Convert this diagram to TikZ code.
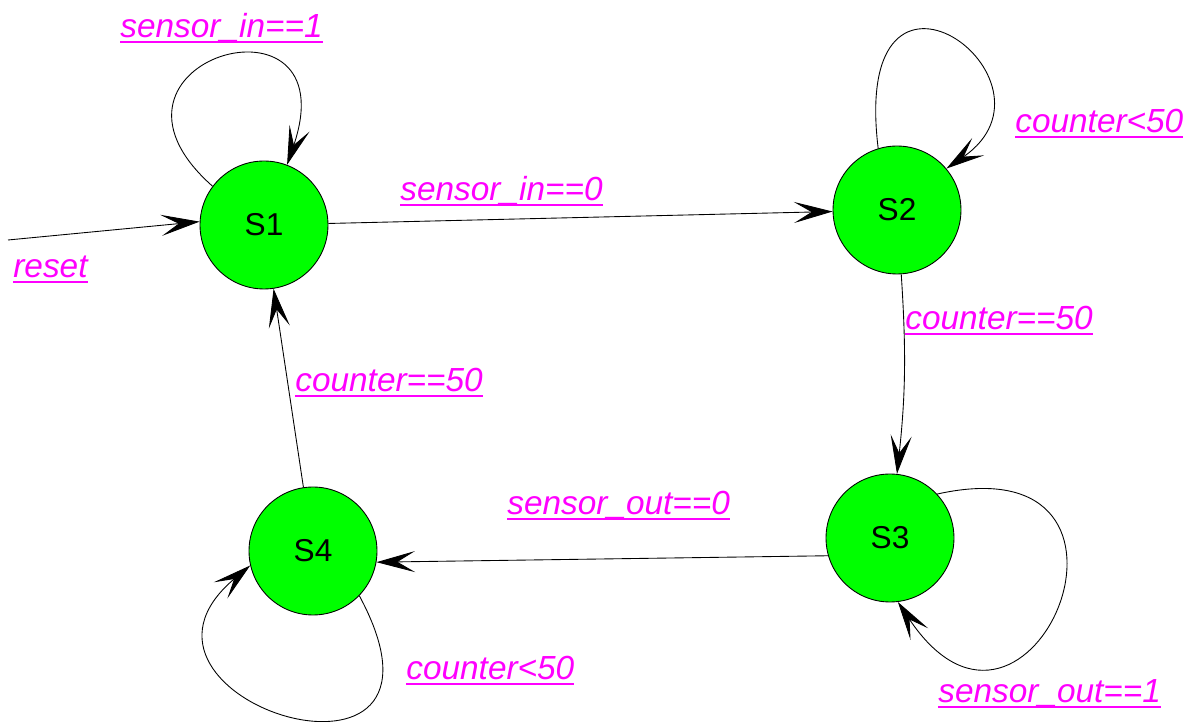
\documentclass[tikz,border=0pt]{standalone}
\usepackage{fontspec}
\setmainfont{Liberation Sans}
\usetikzlibrary{arrows.meta}

\definecolor{stategreen}{RGB}{0,255,0}
\definecolor{guardpink}{RGB}{255,0,255}
\newcommand{\guardtext}[1]{\setbox0\hbox{#1}\rlap{\rule[-3pt]{\wd0}{1.1pt}}\box0}

\tikzset{
	state/.style={circle, draw, line width=0.5pt, fill=stategreen, minimum size=2.56cm, inner sep=0pt, font=\fontsize{18}{20}\selectfont},
	guard/.style={anchor=base west, inner sep=0pt, text=guardpink, font=\fontsize{19}{22}\selectfont\itshape},
	trans/.style={-{Stealth[length=22pt,width=12pt,inset=10pt]}, line width=0.5pt}
}

\begin{document}
\begin{tikzpicture}[x=0.02cm, y=-0.02cm]
			\useasboundingbox (0,0) rectangle (1191,722);

			\node[state] (s1) at (264,225) {S1};
			\node[state] (s2) at (897,210) {S2};
			\node[state] (s3) at (890,538) {S3};
			\node[state] (s4) at (313,551) {S4};
			\coordinate (rst) at (8,240);

			% transitions
			\draw[trans] (rst) -- (s1.177);
			\draw[trans] (s1) -- (s2);
			\draw[trans] (s2) to[bend left=5] (s3);
			\draw[trans] (s3.196) -- (s4.-10);
			\draw[trans] (s4) -- (s1);

			% self loops
			\draw[trans] (s1.143) .. controls (70,60) and (350,-20) .. (s1.69);
			\draw[trans] (s2.107) .. controls (850,-84) and (1075,80) .. (s2.40);
			\draw[trans] (s3.43) .. controls (1180,440) and (1030,800) .. (s3.-83);
			\draw[trans] (s4.-44) .. controls (480,820) and (90,700) .. (s4.193);

			% guards
			\node[guard] (g11) at (120,38) {\guardtext{sensor\_in==1}};
			\node[guard] (grst) at (13,278) {\guardtext{reset}};
			\node[guard] (g12) at (400,201) {\guardtext{sensor\_in==0}};
			\node[guard] (g22) at (1015,133) {\guardtext{counter<50}};
			\node[guard] (g23) at (905,330) {\guardtext{counter==50}};
			\node[guard] (g41) at (295,392) {\guardtext{counter==50}};
			\node[guard] (g34) at (507,515) {\guardtext{sensor\_out==0}};
			\node[guard] (g44) at (406,680) {\guardtext{counter<50}};
			\node[guard] (g33) at (938,703) {\guardtext{sensor\_out==1}};
\end{tikzpicture}
\end{document}
